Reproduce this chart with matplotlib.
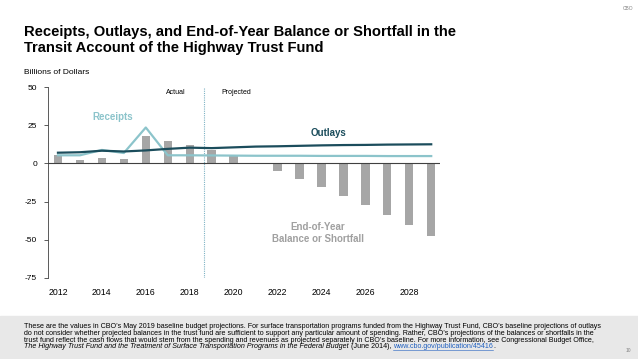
import numpy as np
import matplotlib.pyplot as plt
from matplotlib.patches import Rectangle
from matplotlib.lines import Line2D

# ── data ──
years = np.arange(2012, 2030)
balance = [5.3, 2.4, 3.5, 2.8, 17.8, 14.7, 11.8, 8.8, 5.3, 0.3,
           -4.8, -10.0, -15.6, -21.3, -27.4, -33.8, -40.6, -47.4]
receipts = [5.3, 5.3, 8.8, 6.8, 23.5, 5.3, 5.3, 5.2, 5.1, 5.0,
            5.0, 5.0, 4.9, 4.9, 4.9, 4.8, 4.8, 4.8]
outlays = [7.0, 7.3, 8.3, 7.8, 8.5, 9.5, 10.3, 10.0, 10.5, 11.0,
           11.2, 11.5, 11.8, 12.0, 12.1, 12.3, 12.4, 12.5]
yticks = [50, 25, 0, -25, -50, -75]
xticks = [2012, 2014, 2016, 2018, 2020, 2022, 2024, 2026, 2028]

BAR = "#a6a6a6"
RECEIPTS = "#8cc4cb"
OUTLAYS = "#1b4d5c"

plt.rcParams["font.family"] = ["Liberation Sans", "DejaVu Sans"]
plt.rcParams["axes.unicode_minus"] = False

fig = plt.figure(figsize=(6.38, 3.59), dpi=100)
ax = fig.add_axes([48.3 / 638, 1 - 278 / 359, (440 - 48.3) / 638, (278 - 87) / 359])

ax.bar(years, balance, width=0.38, color=BAR, zorder=2)
ax.plot(years, receipts, color=RECEIPTS, lw=1.6, zorder=3)
ax.plot(years, outlays, color=OUTLAYS, lw=1.6, zorder=4)
ax.axhline(0, color="#404040", lw=0.8, zorder=3)
ax.axvline(2018.65, color="#7fb3c4", lw=0.8, ls=(0, (1, 1)), zorder=1)

ax.set_xlim(2011.56, 2029.4)
ax.set_ylim(-75, 50)
ax.set_yticks(yticks)
ax.set_xticks(xticks)
ax.tick_params(axis="y", labelsize=6, length=3, width=0.6, pad=5, color="#404040")
ax.tick_params(axis="x", labelsize=6.3, length=0, pad=7)
for s in ["top", "right", "bottom"]:
    ax.spines[s].set_visible(False)
ax.spines["left"].set_linewidth(0.6)
ax.spines["left"].set_color("#404040")

# labels
ax.text(2017.36, 46.7, "Actual", fontsize=5, ha="center", va="center")
ax.text(2020.1, 46.7, "Projected", fontsize=5, ha="center", va="center")
ax.text(2014.5, 30.5, "Receipts", fontsize=7, color=RECEIPTS, fontweight="bold",
        ha="center", va="center")
ax.text(2024.3, 19.7, "Outlays", fontsize=7, color=OUTLAYS, fontweight="bold",
        ha="center", va="center")
ax.text(2023.85, -45.4, "End-of-Year\nBalance or Shortfall", fontsize=7, color="#a0a0a0",
        fontweight="bold", ha="center", va="center", linespacing=1.2)

# title and headers
fig.text(24 / 638, 1 - 40 / 359, "Receipts, Outlays, and End-of-Year Balance or Shortfall in the\n"
         "Transit Account of the Highway Trust Fund", fontsize=10.6, fontweight="bold",
         ha="left", va="center", linespacing=1.15)
fig.text(24 / 638, 1 - 72 / 359, "Billions of Dollars", fontsize=6, ha="left", va="center")
fig.text(628 / 638, 1 - 8 / 359, "CBO", fontsize=3.5, color="#808080", ha="center", va="center")

# footer box
fig.patches.append(Rectangle((0, 0), 1, 1 - 316 / 359, transform=fig.transFigure,
                             color="#e8e8e8", zorder=0))
FS = 5.1
note_lines = [
    "These are the values in CBO\u2019s May 2019 baseline budget projections. For surface transportation programs funded from the Highway Trust Fund, CBO\u2019s baseline projections of outlays",
    "do not consider whether projected balances in the trust fund are sufficient to support any particular amount of spending. Rather, CBO\u2019s projections of the balances or shortfalls in the",
    "trust fund reflect the cash flows that would stem from the spending and revenues as projected separately in CBO\u2019s baseline. For more information, see Congressional Budget Office,",
]
line_y = [326.7, 333.3, 340.0, 346.6]
for txt, yy in zip(note_lines, line_y):
    fig.text(24 / 638, 1 - yy / 359, txt, fontsize=FS, ha="left", va="center")
ylast = 1 - line_y[3] / 359
t1 = fig.text(24 / 638, ylast,
              "The Highway Trust Fund and the Treatment of Surface Transportation Programs in the Federal Budget",
              fontsize=FS, style="italic", ha="left", va="center")
fig.canvas.draw()
x1 = t1.get_window_extent().x1 / fig.bbox.width
t2 = fig.text(x1, ylast, " (June 2014), ", fontsize=FS, ha="left", va="center")
fig.canvas.draw()
x2 = t2.get_window_extent().x1 / fig.bbox.width
t3 = fig.text(x2, ylast, "www.cbo.gov/publication/45416", fontsize=FS, color="#1f5fbf",
              ha="left", va="center")
fig.canvas.draw()
x3 = t3.get_window_extent().x1 / fig.bbox.width
yl = 1 - (line_y[3] + 3) / 359
fig.add_artist(Line2D([x2, x3], [yl, yl], transform=fig.transFigure, color="#1f5fbf", lw=0.4))
fig.text(x3, ylast, ".", fontsize=FS, ha="left", va="center")
fig.text(628 / 638, 1 - 350 / 359, "10", fontsize=3.5, color="#808080", ha="center", va="center")

fig.savefig("out.png", dpi=100)
